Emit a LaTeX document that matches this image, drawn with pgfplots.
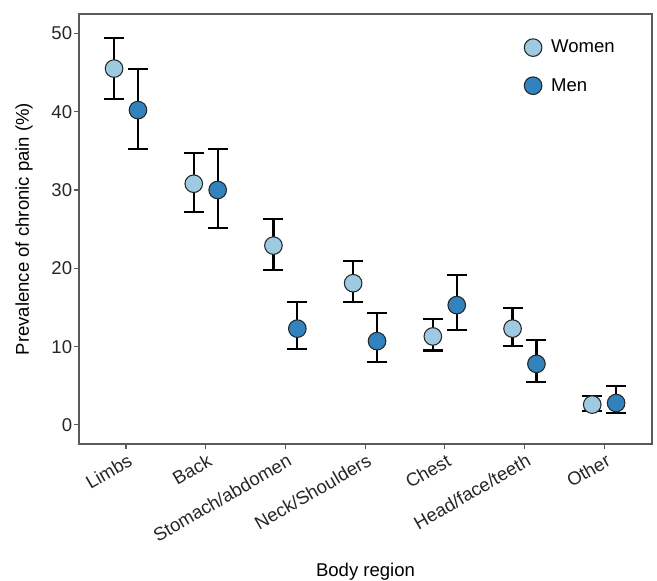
\documentclass[border=0pt]{standalone}
\usepackage{fontspec}
\setmainfont{Liberation Sans}
\usepackage{pgfplots}
\pgfplotsset{compat=1.18}
\usepackage{pgfplotstable}
\definecolor{women}{HTML}{9ECAE1}
\definecolor{men}{HTML}{3182BD}
\definecolor{frame}{RGB}{90,90,90}
\pgfplotstableread{
x y ep em
-0.15 45.5 3.9 3.9
0.85 30.8 3.9 3.6
1.85 22.9 3.4 3.1
2.85 18.1 2.8 2.4
3.85 11.3 2.2 1.8
4.85 12.3 2.6 2.2
5.85 2.6 1.1 0.8
}\women
\pgfplotstableread{
x y ep em
0.15 40.2 5.2 5.0
1.15 30.0 5.2 4.8
2.15 12.3 3.4 2.6
3.15 10.7 3.6 2.7
4.15 15.3 3.8 3.2
5.15 7.8 3.1 2.3
6.15 2.8 2.2 1.3
}\men
\begin{document}
\begin{tikzpicture}
\begin{axis}[
  scale only axis,
  width=429.75pt, height=322.5pt,
  xmin=-0.59, xmax=6.6,
  ymin=-2.43, ymax=52.47,
  xtick={0,1,2,3,4,5,6},
  xticklabels={Limbs,Back,Stomach/abdomen,Neck/Shoulders,Chest,Head/face/teeth,Other},
  ytick={0,10,20,30,40,50},
  /pgf/number format/assume math mode=true,
  tick align=outside,
  major tick length=3.5pt,
  tick style={frame, line width=0.8pt},
  axis line style={frame, line width=0.9pt},
  axis x line*=box, axis y line*=box,
  xtick pos=bottom, ytick pos=left,
  tick label style={font=\fontsize{13.9}{16}\selectfont, text=black!85},
  xticklabel style={rotate=30, anchor=north east, inner sep=1pt, yshift=-2pt},
  yticklabel style={inner sep=1.5pt},
  xlabel={Body region},
  ylabel={Prevalence of chronic pain (\%)},
  label style={font=\fontsize{13.9}{16}\selectfont, text=black},
  xlabel style={at={(axis description cs:0.5,-0.309)}, anchor=base},
  ylabel style={at={(axis description cs:-0.096,0.5)}, anchor=center},
  legend style={draw=none, fill=none, at={(axis description cs:0.772,0.952)}, anchor=north west,
    font=\fontsize{13.9}{16}\selectfont, row sep=13.5pt, inner sep=2pt},
  legend cell align=left,
  clip=false,
]
\addplot[forget plot, draw=none, line width=1.6pt, mark=none,
  error bars/.cd, y dir=both, y explicit, error mark=-, error mark options={rotate=90, line width=1.6pt, mark size=7.5pt, black},
  error bar style={line width=1.6pt, black}]
  table[x=x, y=y, y error plus=ep, y error minus=em]{\women};
\addplot[forget plot, draw=none, line width=1.6pt, mark=none,
  error bars/.cd, y dir=both, y explicit, error mark=-, error mark options={rotate=90, line width=1.6pt, mark size=7.5pt, black},
  error bar style={line width=1.6pt, black}]
  table[x=x, y=y, y error plus=ep, y error minus=em]{\men};
\addplot[only marks, mark=*, mark size=6.6pt, mark options={fill=women, draw=black!85, line width=0.8pt}]
  table[x=x, y=y]{\women};
\addlegendentry{\hspace{5pt}Women}
\addplot[only marks, mark=*, mark size=6.6pt, mark options={fill=men, draw=black!85, line width=0.8pt}]
  table[x=x, y=y]{\men};
\addlegendentry{\hspace{5pt}Men}
\end{axis}
\pgfresetboundingbox
\path ([xshift=-59.25pt,yshift=-102.75pt]current axis.south west) rectangle ([xshift=3.75pt,yshift=10.5pt]current axis.north east);
\end{tikzpicture}
\end{document}
